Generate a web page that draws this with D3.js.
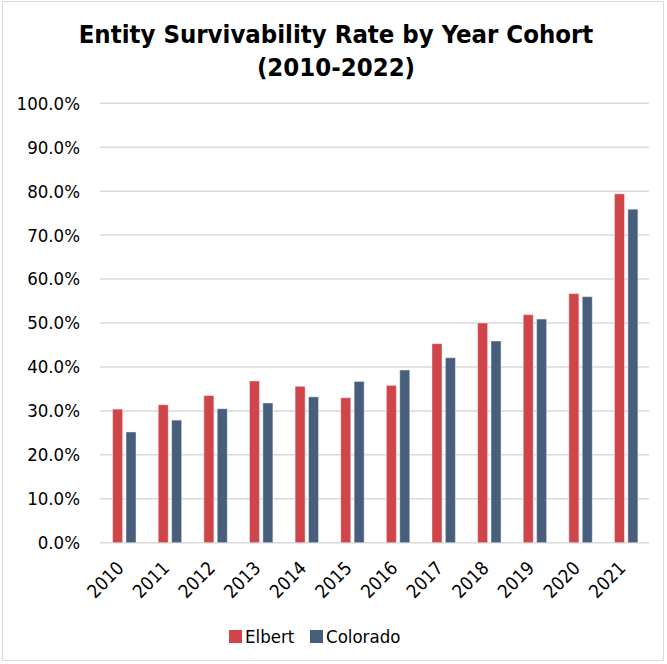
<!DOCTYPE html>
<html>
<head>
<meta charset="utf-8">
<script src="https://cdn.jsdelivr.net/npm/d3@7"></script>
<style>
  body { margin: 0; background: #fff; }
  text { font-family: "DejaVu Sans Condensed", "DejaVu Sans", sans-serif; }
</style>
</head>
<body>
<div id="svg-container"></div>
<script>
// chart data
const years = ['2010', '2011', '2012', '2013', '2014', '2015', '2016', '2017', '2018', '2019', '2020', '2021'];
const seriesNames = ['Elbert', 'Colorado'];
const elbert = [30.4, 31.4, 33.5, 36.8, 35.6, 33.0, 35.8, 45.3, 50.0, 51.9, 56.7, 79.4];
const colorado = [25.2, 27.9, 30.5, 31.8, 33.2, 36.7, 39.3, 42.1, 45.9, 50.9, 56.0, 75.9];
const yTicks = [0, 10, 20, 30, 40, 50, 60, 70, 80, 90, 100];
const titleLines = ['Entity Survivability Rate by Year Cohort', '(2010-2022)'];

const colors = { Elbert: '#d0454a', Colorado: '#475e7c' };

const svgWidth = 667;
const svgHeight = 664;
const plot = { left: 100, right: 649, top: 103.3, bottom: 542.7 };
const labelSize = 18.5;

const svg = d3.select('#svg-container')
.append('svg')
.attr('width', svgWidth)
.attr('height', svgHeight);

// outer chart border
svg.append('rect')
.attr('x', 2.5).attr('y', 1.5)
.attr('width', 661).attr('height', 659)
.attr('fill', 'none')
.attr('stroke', '#d9d9d9');

// title
svg.append('g')
.selectAll('text')
.data(titleLines)
.enter()
.append('text')
.attr('x', 336)
.attr('y', (d, i) => 43 + i * 33)
.attr('text-anchor', 'middle')
.attr('font-weight', 'bold')
.attr('font-size', 25.5)
.attr('fill', '#000')
.text(d => d);

// scales
const y = d3.scaleLinear().domain([0, 100]).range([plot.bottom, plot.top]);
const x0 = d3.scaleBand().domain(years).range([101.5, 649]).paddingInner(0.486).paddingOuter(0.243);
const x1 = d3.scaleBand().domain(seriesNames).range([0, x0.bandwidth()]).paddingInner(0.25);

// gridlines
svg.append('g')
.selectAll('line')
.data(yTicks)
.enter()
.append('line')
.attr('x1', plot.left)
.attr('x2', plot.right)
.attr('y1', d => y(d))
.attr('y2', d => y(d))
.attr('stroke', '#d9d9d9')
.attr('stroke-width', 1.5);

// y axis labels
const yAxis = svg.append('g')
.attr('transform', `translate(80, 0)`)
.call(d3.axisLeft(y).tickValues(yTicks).tickSize(0).tickPadding(0).tickFormat(d => d.toFixed(1) + '%'));
yAxis.select('.domain').remove();
yAxis.selectAll('text')
.attr('font-size', labelSize)
.attr('fill', '#000')
.style('font-family', '"DejaVu Sans Condensed", sans-serif');

// bars
const rows = years.map((yr, i) => ({ year: yr, Elbert: elbert[i], Colorado: colorado[i] }));

const groups = svg.append('g')
.selectAll('g')
.data(rows)
.enter()
.append('g')
.attr('transform', d => `translate(${x0(d.year)}, 0)`);

groups.selectAll('rect')
.data(d => seriesNames.map(s => ({ key: s, value: d[s] })))
.enter()
.append('rect')
.attr('x', d => x1(d.key))
.attr('y', d => y(d.value))
.attr('width', x1.bandwidth())
.attr('height', d => y(0) - y(d.value))
.attr('fill', d => colors[d.key])
.attr('stroke', 'rgba(255,255,255,0.45)')
.attr('stroke-width', 1);

// x axis labels, rotated
const xAxis = svg.append('g')
.attr('transform', `translate(0, ${plot.bottom + 14})`)
.call(d3.axisBottom(x0).tickSize(0).tickPadding(0));
xAxis.select('.domain').remove();
xAxis.selectAll('text')
.attr('font-size', labelSize)
.attr('fill', '#000')
.attr('text-anchor', 'end')
.attr('dy', '0.35em')
.attr('transform', 'translate(-4, 8) rotate(-45)')
.style('font-family', '"DejaVu Sans Condensed", sans-serif');

// legend
const legendItems = [
  { name: 'Elbert', x: 229 },
  { name: 'Colorado', x: 310 }
];
const legend = svg.append('g');
legend.selectAll('rect')
.data(legendItems)
.enter()
.append('rect')
.attr('x', d => d.x)
.attr('y', 630)
.attr('width', 13)
.attr('height', 13)
.attr('fill', d => colors[d.name]);
legend.selectAll('text')
.data(legendItems)
.enter()
.append('text')
.attr('x', d => d.x + 16)
.attr('y', 643)
.attr('font-size', labelSize)
.attr('fill', '#000')
.text(d => d.name);
</script>
</body>
</html>
